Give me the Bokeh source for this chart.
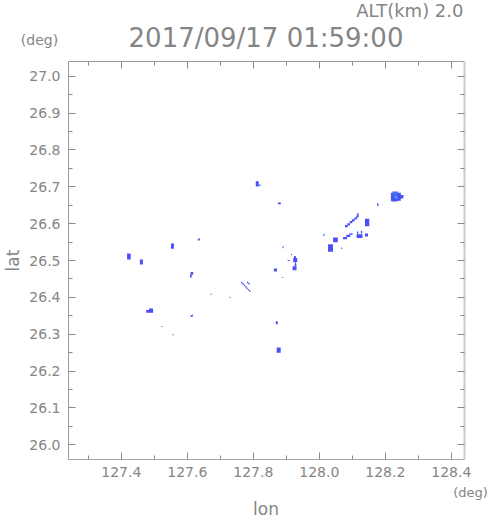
import numpy as np
from bokeh.plotting import figure
from bokeh.models import (ColumnDataSource, LinearAxis, FixedTicker, Range1d,
                          Label, PrintfTickFormatter, CategoricalColorMapper)
from bokeh.embed import file_html
from bokeh.resources import INLINE

# ---------------- data ----------------
title_time = "2017/09/17 01:59:00"
alt_text = "ALT(km) 2.0"
x_unit = "(deg)"
y_unit = "(deg)"
x_label = "lon"
y_label = "lat"

x_ticks = [127.4, 127.6, 127.8, 128.0, 128.2, 128.4]
x_minor = [127.3, 127.5, 127.7, 127.9, 128.1, 128.3]
y_ticks = [26.0, 26.1, 26.2, 26.3, 26.4, 26.5, 26.6, 26.7, 26.8, 26.9, 27.0]
y_minor = [26.05, 26.15, 26.25, 26.35, 26.45, 26.55, 26.65, 26.75, 26.85, 26.95]

# echo cells: centre lon, centre lat, extent lon, extent lat, level
cell_lon = [
    127.812, 127.820, 127.879, 127.635, 127.555, 127.423, 127.461,
    127.614, 127.611, 127.889, 127.892, 127.916,
    127.927, 127.928, 127.926, 127.907, 127.925, 127.928, 127.867, 127.889,
    127.765, 127.769, 127.773, 127.777, 127.781, 127.785, 127.789, 127.783, 127.787,
    127.672, 127.729, 127.486, 127.490, 127.613, 127.616, 127.523, 127.557,
    127.871, 127.877,
    128.232, 128.230, 128.228, 128.250, 128.233, 128.226,
    128.177, 128.180,
    128.082, 128.089, 128.096, 128.103, 128.110, 128.115, 128.117,
    128.145, 128.078, 128.088, 128.096,
    128.122, 128.116, 128.128, 128.143, 128.049, 128.034, 128.013, 128.015, 128.068,
]
cell_lat = [
    26.708, 26.704, 26.655, 26.557, 26.539, 26.511, 26.496,
    26.465, 26.458, 26.535, 26.538, 26.516,
    26.501, 26.490, 26.509, 26.500, 26.479, 26.487, 26.474, 26.454,
    26.440, 26.437, 26.433, 26.429, 26.425, 26.421, 26.417, 26.440, 26.437,
    26.408, 26.400, 26.362, 26.367, 26.349, 26.352, 26.321, 26.299,
    26.331, 26.257,
    26.673, 26.683, 26.663, 26.673, 26.672, 26.676,
    26.652, 26.650,
    26.593, 26.598, 26.604, 26.609, 26.614, 26.619, 26.624,
    26.603, 26.561, 26.567, 26.572,
    26.566, 26.575, 26.577, 26.569, 26.556, 26.534, 26.568, 26.571, 26.533,
]
cell_dlon = [
    0.009, 0.004, 0.009, 0.006, 0.009, 0.011, 0.009,
    0.008, 0.005, 0.003, 0.003, 0.003,
    0.012, 0.003, 0.006, 0.006, 0.012, 0.006, 0.009, 0.003,
    0.004, 0.004, 0.004, 0.004, 0.004, 0.004, 0.004, 0.004, 0.004,
    0.003, 0.003, 0.021, 0.012, 0.006, 0.003, 0.003, 0.003,
    0.006, 0.012,
    0.030, 0.018, 0.018, 0.010, 0.008, 0.005,
    0.003, 0.003,
    0.008, 0.008, 0.008, 0.008, 0.008, 0.006, 0.004,
    0.013, 0.012, 0.012, 0.010,
    0.018, 0.004, 0.004, 0.009, 0.014, 0.015, 0.003, 0.003, 0.003,
]
cell_dlat = [
    0.014, 0.004, 0.005, 0.006, 0.014, 0.016, 0.014,
    0.008, 0.008, 0.003, 0.003, 0.003,
    0.012, 0.010, 0.006, 0.003, 0.011, 0.004, 0.008, 0.003,
    0.004, 0.004, 0.004, 0.004, 0.004, 0.004, 0.004, 0.004, 0.004,
    0.003, 0.003, 0.007, 0.006, 0.005, 0.003, 0.003, 0.003,
    0.008, 0.014,
    0.022, 0.008, 0.006, 0.010, 0.008, 0.005,
    0.008, 0.003,
    0.006, 0.006, 0.006, 0.006, 0.006, 0.006, 0.010,
    0.020, 0.006, 0.006, 0.004,
    0.010, 0.008, 0.008, 0.008, 0.013, 0.020, 0.003, 0.003, 0.004,
]
cell_level = ["1"] * len(cell_lon)
cell_level[cell_lon.index(128.233)] = "3"
cell_level[cell_lon.index(128.226)] = "2"
cell_level[cell_lon.index(128.230)] = "2"

levels = ["1", "2", "3"]
level_colors = ["#4a4ff6", "#4a72f4", "#3aa6f8"]

# ---------------- styling ----------------
GRAY = "#858585"
FONT = "DejaVu Sans"
W = 490


def strip(h, y0):
    # a text strip whose data coordinates are page pixels
    s = figure(width=W, height=h, output_backend="svg", toolbar_location=None,
               x_range=Range1d(0, W), y_range=Range1d(y0 + h, y0),
               x_axis_location=None, y_axis_location=None,
               min_border_left=0, min_border_right=0, min_border_top=0,
               min_border_bottom=0)
    s.outline_line_color = None
    s.grid.visible = False
    return s


def lab(fig, text, x, y, size, align="center", baseline="middle"):
    fig.add_layout(Label(x=x, y=y, text=text, text_font=FONT,
                         text_font_size=size, text_color=GRAY,
                         text_align=align, text_baseline=baseline))


# top strip (titles)
top_strip = strip(58, 0)
lab(top_strip, alt_text, 463, 10, "18px", "right")
lab(top_strip, title_time, 265.5, 37, "26px")
lab(top_strip, y_unit, 39, 39, "14px")

# main plot
p = figure(width=W, height=425, output_backend="svg", toolbar_location=None,
           x_range=Range1d(127.24, 128.44), y_range=Range1d(25.96, 27.04),
           min_border_left=66, min_border_right=26, min_border_top=3,
           min_border_bottom=24)
p.outline_line_color = None
p.xgrid.visible = False
p.ygrid.visible = False

src = ColumnDataSource(dict(lon=cell_lon, lat=cell_lat, dlon=cell_dlon,
                            dlat=cell_dlat, level=cell_level))
cmap = CategoricalColorMapper(factors=levels, palette=level_colors)
p.rect(x="lon", y="lat", width="dlon", height="dlat", source=src,
       fill_color={"field": "level", "transform": cmap}, line_color=None)

xt = FixedTicker(ticks=x_ticks, minor_ticks=x_minor)
yt = FixedTicker(ticks=y_ticks, minor_ticks=y_minor)


def style(ax, labels=True, color="#9a9a9a", width=1, standoff=8):
    ax.axis_line_color = color
    ax.axis_line_width = width
    ax.major_tick_line_color = "#8a8a8a"
    ax.minor_tick_line_color = "#8a8a8a"
    ax.major_tick_in = 7
    ax.major_tick_out = 0
    ax.minor_tick_in = 4
    ax.minor_tick_out = 0
    ax.formatter = PrintfTickFormatter(format="%.1f")
    if labels:
        ax.major_label_text_font = FONT
        ax.major_label_text_font_size = "14px"
        ax.major_label_text_color = GRAY
        ax.major_label_standoff = standoff
    else:
        ax.major_label_text_font_size = "0px"
        ax.major_label_text_color = None
        ax.major_label_standoff = 0


p.xaxis.ticker = xt
p.yaxis.ticker = yt
style(p.xaxis[0], True, "#a8a8a8", 1, 7)
style(p.yaxis[0], True, "#9a9a9a", 1, 8)
p.yaxis[0].axis_label = y_label
p.yaxis[0].axis_label_text_font = FONT
p.yaxis[0].axis_label_text_font_size = "17px"
p.yaxis[0].axis_label_text_font_style = "normal"
p.yaxis[0].axis_label_text_color = GRAY
p.yaxis[0].axis_label_standoff = 3

top = LinearAxis(ticker=xt)
style(top, False, "#9a9a9a")
p.add_layout(top, "above")
right = LinearAxis(ticker=yt)
style(right, False, "#cccccc", 2)
p.add_layout(right, "right")

# bottom strip (x unit and x label)
bottom_strip = strip(37, 483)
lab(bottom_strip, x_unit, 470, 492, "13px")
lab(bottom_strip, x_label, 265.5, 508.5, "17px")

open("out.html", "w").write(file_html([top_strip, p, bottom_strip], INLINE))
